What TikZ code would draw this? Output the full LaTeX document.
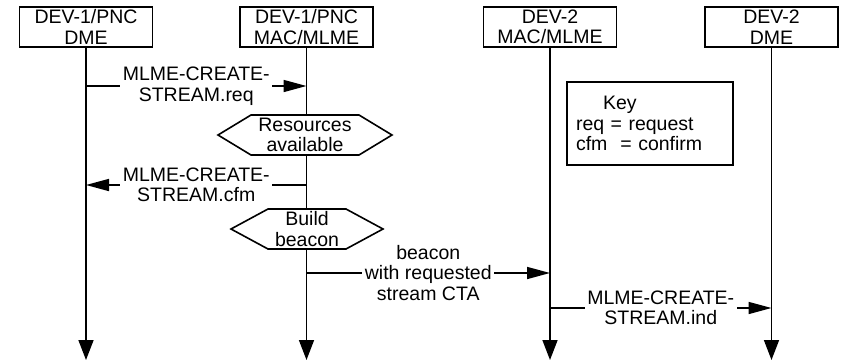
\documentclass[tikz,border=0pt]{standalone}
\usepackage{fontspec}
\setmainfont{Liberation Sans}
\usetikzlibrary{arrows.meta,calc}
\begin{document}
\begin{tikzpicture}[x=1pt,y=-1pt,line width=1.6pt,
  every node/.style={font=\fontsize{19.5}{20.5}\selectfont,align=center},
  entity/.style={draw,fill=white,minimum width=133pt,minimum height=40pt,inner sep=0pt},
  life/.style={-{Triangle[length=20pt,width=15pt]}},
  msg/.style={-{Triangle[length=23pt,width=12pt]}},
  lbl/.style={fill=white,inner xsep=2.5pt,inner ysep=1pt},
  hexa/.style={draw,fill=white},
  keybox/.style={draw,fill=white,align=left,text width=148pt,inner xsep=9pt,minimum height=83pt}]
\useasboundingbox (0,0) rectangle (843,362);
% entities
\node[entity] (a) at (86,27) {DEV-1/PNC\\DME};
\node[entity] (b) at (306.5,27) {DEV-1/PNC\\MAC/MLME};
\node[entity] (c) at (550,27) {DEV-2\\MAC/MLME};
\node[entity] (d) at (771.5,27) {DEV-2\\DME};
% lifeline ends
\coordinate (ae) at (86,360);
\coordinate (be) at (306.5,360);
\coordinate (ce) at (550,360);
\coordinate (de) at (771.5,360);
\draw[life] (a) -- (ae);
\draw[life] (b) -- (be);
\draw[life] (c) -- (ce);
\draw[life] (d) -- (de);
% key
\node[keybox] (key) at (650,123.5) {\hspace*{27pt}Key\\req = request\\cfm\ \ = confirm};
% message points
\coordinate (a1) at (86,86);
\coordinate (b1) at (306.5,86);
\coordinate (b2) at (306.5,185);
\coordinate (a2) at (86,185);
\coordinate (b3) at (306.5,273);
\coordinate (c3) at (550,273);
\coordinate (c4) at (550,308);
\coordinate (d4) at (771.5,308);
\draw[msg] (a1) -- node[lbl] (m1) {MLME-CREATE-\\STREAM.req} (b1);
\draw[msg] (b2) -- node[lbl] (m2) {MLME-CREATE-\\STREAM.cfm} (a2);
\draw[msg] (b3) -- node[lbl] (m3) {beacon\\with requested\\stream CTA} (c3);
\draw[msg] (c4) -- node[lbl] (m4) {MLME-CREATE-\\STREAM.ind} (d4);
% hexagons
\coordinate (h1c) at (305,135);
\draw[hexa] ($(h1c)+(-87,0)$) -- ++(33,-20) -- ++(108,0) -- ++(33,20) -- ++(-33,20) -- ++(-108,0) -- cycle;
\node (h1) at (h1c) {Resources\\available};
\coordinate (h2c) at (307,229);
\draw[hexa] ($(h2c)+(-76,0)$) -- ++(37,-20) -- ++(78,0) -- ++(37,20) -- ++(-37,20) -- ++(-78,0) -- cycle;
\node (h2) at (h2c) {Build\\beacon};
\end{tikzpicture}
\end{document}
